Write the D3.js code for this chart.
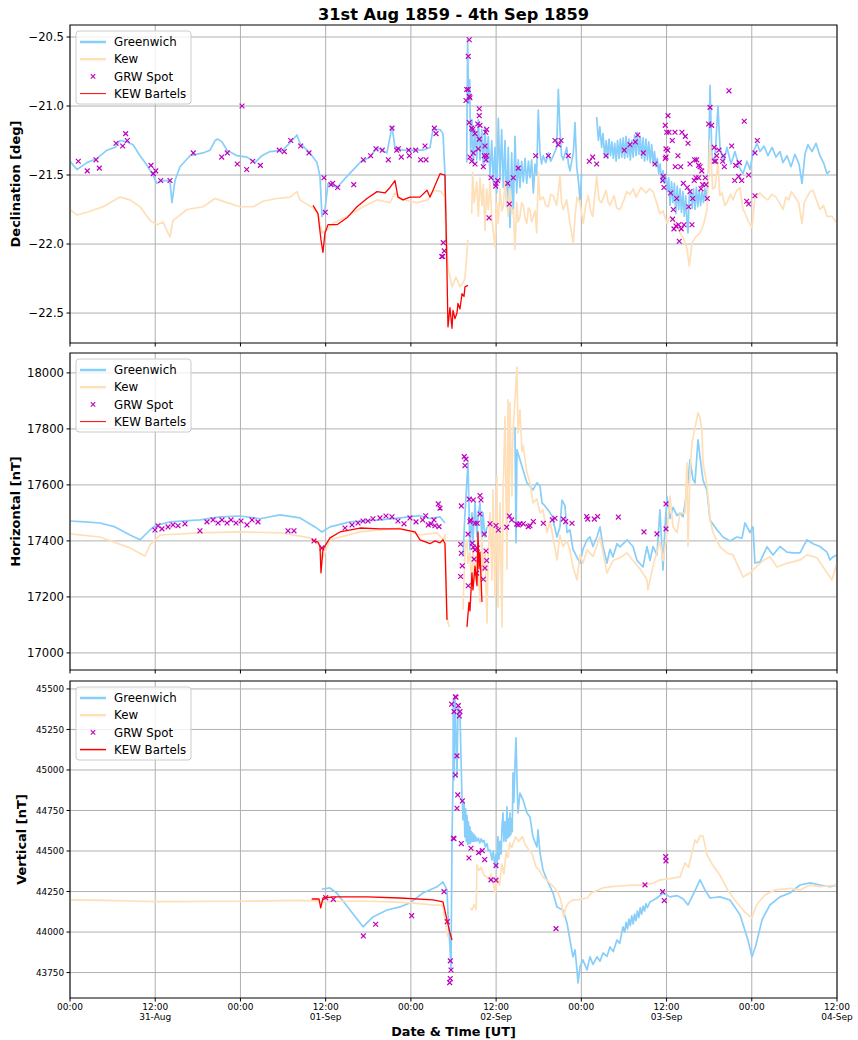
<!DOCTYPE html>
<html><head><meta charset="utf-8">
<script src="https://cdn.jsdelivr.net/npm/d3@7"></script>
<style>body{margin:0;background:#fff} text{font-family:"DejaVu Sans",sans-serif}</style>
</head><body><svg id="c" width="858" height="1040"></svg>
<script>
// time in hours from 31 Aug 1859 00:00 UT
const xTickHours = [0,12,24,36,48,60,72,84,96,108];
const xTickTimes = ["00:00","12:00","00:00","12:00","00:00","12:00","00:00","12:00","00:00","12:00"];
const xTickDates = ["","31-Aug","","01-Sep","","02-Sep","","03-Sep","","04-Sep"];
const decTicks = [-20.5,-21.0,-21.5,-22.0,-22.5];
const horTicks = [17000,17200,17400,17600,17800,18000];
const verTicks = [43750,44000,44250,44500,44750,45000,45250,45500];

const decGreenwich = [[0,-21.40],[0.99,-21.46],[2.39,-21.41],[3.8,-21.38],[5.21,-21.32],[6.34,-21.30],[7.04,-21.25],[8.03,-21.26],[8.87,-21.28],[9.86,-21.36],[10.84,-21.43],[11.69,-21.50],[12.25,-21.56],[12.95,-21.54],[13.8,-21.54],[14.08,-21.55],[14.36,-21.70],[14.78,-21.54],[15.49,-21.44],[16.9,-21.36],[18.73,-21.34],[19.71,-21.32],[20.42,-21.25],[20.84,-21.24],[21.4,-21.26],[22.11,-21.32],[23.51,-21.36],[24.92,-21.37],[26.05,-21.41],[27.03,-21.36],[28.16,-21.33],[29.99,-21.32],[31.26,-21.25],[31.96,-21.21],[32.39,-21.27],[33.79,-21.34],[34.78,-21.41],[35.2,-21.51],[35.48,-21.80],[35.9,-21.75],[36.33,-21.56],[37.6,-21.59],[39.0,-21.51],[40.83,-21.41],[42.24,-21.37],[43.23,-21.30],[44.63,-21.34],[45.34,-21.15],[45.76,-21.30],[46.89,-21.32],[48.3,-21.32],[49.7,-21.32],[50.69,-21.30],[51.11,-21.17],[52.1,-21.17],[52.52,-21.20],[52.8,-21.49],[52.94,-21.97],[53.08,-22.05],[53.2,null],
[55.86,-21.41],[55.99,-20.52],[56.13,-20.98],[56.28,-20.81],[56.42,-21.34],[56.6,-21.10],[56.79,-21.41],[57.03,-21.17],[57.27,-21.39],[57.5,-21.10],[57.73,-21.39],[57.97,-21.17],[58.2,-21.44],[58.43,-21.15],[58.67,-21.41],[58.9,-21.22],[59.14,-21.51],[59.38,-21.25],[59.62,-21.56],[59.84,-21.30],[60.08,-21.63],[60.31,-21.09],[60.55,-21.54],[60.78,-21.17],[61.01,-21.59],[61.25,-21.25],[61.49,-21.73],[61.71,-21.30],[61.95,-21.88],[62.19,-21.34],[62.42,-21.78],[62.66,-21.22],[62.9,-21.63],[63.12,-21.39],[63.36,-21.59],[63.6,-21.40],[63.83,-21.55],[64.07,-21.38],[64.31,-21.56],[64.55,-21.40],[64.77,-21.52],[65.0,-21.39],[65.24,-21.63],[65.48,-21.42],[65.71,-21.50],[65.94,-21.03],[66.18,-21.34],[66.4,-21.42],[66.64,-21.36],[67.0,-21.41],[67.35,-21.34],[67.7,-21.40],[68.05,-21.36],[68.53,-21.30],[68.76,-20.88],[68.99,-21.17],[69.22,-21.36],[69.46,-21.39],[69.94,-21.30],[70.18,-21.42],[70.4,-21.47],[70.87,-21.34],[71.11,-21.12],[71.35,-21.44],[71.6,-21.55],[71.81,-21.68],[72.05,-21.49],[72.2,null],
[74.16,-21.08],[74.4,-21.25],[74.6,-21.15],[74.86,-21.30],[75.05,-21.20],[75.3,-21.37],[75.5,-21.25],[75.7,-21.38],[75.9,-21.24],[76.1,-21.36],[76.3,-21.26],[76.5,-21.38],[76.7,-21.27],[76.9,-21.40],[77.1,-21.25],[77.3,-21.38],[77.5,-21.24],[77.7,-21.37],[77.9,-21.23],[78.1,-21.38],[78.3,-21.22],[78.5,-21.37],[78.7,-21.24],[78.9,-21.39],[79.1,-21.25],[79.3,-21.37],[79.5,-21.21],[79.7,-21.36],[79.9,-21.19],[80.1,-21.35],[80.3,-21.22],[80.5,-21.38],[80.7,-21.23],[80.9,-21.40],[81.1,-21.24],[81.3,-21.39],[81.5,-21.26],[81.7,-21.41],[81.9,-21.28],[82.1,-21.42],[82.3,-21.33],[82.5,-21.44],[82.7,-21.38],[82.9,-21.49],[83.1,-21.42],[83.3,-21.55],[83.5,-21.47],[83.7,-21.56],[83.9,-21.50],[84.1,-21.62],[84.3,-21.52],[84.5,-21.72],[84.7,-21.55],[84.9,-21.70],[85.1,-21.56],[85.3,-21.78],[85.5,-21.58],[85.7,-21.75],[85.9,-21.60],[86.1,-21.77],[86.3,-21.62],[86.5,-21.80],[86.7,-21.65],[86.9,-21.85],[87.02,-21.92],[87.2,-21.65],[87.4,-21.62],[87.6,-21.74],[87.8,-21.60],[88.0,-21.75],[88.2,-21.59],[88.4,-21.73],[88.6,-21.61],[88.8,-21.72],[89.0,-21.62],[89.2,-21.70],[89.4,-21.60],[89.6,-21.68],[89.9,-21.50],[90.12,-20.85],[90.4,-21.39],[90.82,-21.37],[91.24,-21.00],[91.52,-21.30],[92.08,-21.40],[92.51,-21.30],[93.07,-21.42],[93.63,-21.33],[94.2,-21.44],[94.76,-21.49],[95.32,-21.40],[95.75,-21.46],[96.17,-21.34],[96.73,-21.27],[97.16,-21.33],[97.72,-21.29],[98.28,-21.36],[98.85,-21.30],[99.41,-21.37],[99.97,-21.33],[100.39,-21.41],[100.96,-21.36],[101.52,-21.44],[102.08,-21.35],[102.65,-21.42],[103.07,-21.56],[103.49,-21.35],[103.91,-21.28],[104.48,-21.33],[105.04,-21.27],[105.6,-21.36],[106.17,-21.42],[106.59,-21.49],[107.01,-21.47]];

const decKew = [[0,-21.75],[0.99,-21.79],[2.39,-21.77],[4.65,-21.73],[7.04,-21.66],[8.45,-21.68],[9.86,-21.73],[11.27,-21.83],[12.25,-21.86],[13.1,-21.84],[14.08,-21.95],[14.5,-21.83],[16.48,-21.75],[18.73,-21.73],[20.42,-21.67],[22.11,-21.70],[23.94,-21.73],[25.77,-21.73],[27.17,-21.69],[29.15,-21.67],[31.0,-21.66],[31.96,-21.62],[32.39,-21.68],[34.22,-21.74],[34.92,-21.78],[35.48,-21.92],[36.19,-21.90],[37.03,-21.85],[39.0,-21.80],[41.26,-21.73],[43.23,-21.68],[45.06,-21.70],[45.76,-21.63],[46.89,-21.68],[48.86,-21.70],[50.41,-21.68],[51.26,-21.61],[52.24,-21.62],[52.8,-21.66],[53.08,-22.04],[53.22,-22.17],[53.8,-22.31],[54.35,-22.24],[54.92,-22.31],[55.48,-22.27],[55.62,-22.24],[56.04,-21.97],[56.3,null],
[56.56,-21.78],[56.7,-21.48],[56.9,-21.70],[57.27,-21.55],[57.5,-21.80],[57.73,-21.52],[58.0,-21.72],[58.2,-21.57],[58.43,-21.90],[58.67,-21.60],[58.9,-21.75],[59.14,-21.55],[59.4,-21.82],[59.84,-22.02],[60.08,-21.70],[60.3,-21.85],[60.55,-21.60],[60.8,-21.76],[61.01,-21.73],[61.25,-21.54],[61.49,-21.68],[61.7,-21.80],[61.95,-21.60],[62.2,-21.78],[62.42,-21.75],[62.66,-22.04],[62.9,-21.70],[63.1,-21.84],[63.36,-21.80],[63.6,-21.70],[63.83,-21.72],[64.1,-21.82],[64.31,-21.85],[64.55,-21.74],[64.77,-21.75],[65.0,-21.84],[65.24,-21.80],[65.5,-21.76],[65.71,-21.92],[65.94,-21.48],[66.18,-21.68],[66.64,-21.66],[67.0,-21.72],[67.35,-21.73],[67.7,-21.64],[68.05,-21.65],[68.53,-21.72],[68.99,-21.51],[69.22,-21.70],[69.46,-21.75],[69.94,-21.68],[70.2,-21.78],[70.4,-21.85],[70.87,-21.99],[71.11,-21.80],[71.4,-21.66],[71.81,-21.70],[72.28,-21.85],[72.6,-21.72],[72.99,-21.65],[73.3,-21.76],[73.6,-21.80],[74.16,-21.51],[74.5,-21.68],[74.86,-21.70],[75.47,-21.61],[75.8,-21.70],[76.03,-21.72],[76.6,-21.65],[77.0,-21.74],[77.44,-21.75],[78.0,-21.68],[78.4,-21.62],[78.85,-21.64],[79.3,-21.60],[79.7,-21.66],[80.4,-21.59],[81.1,-21.63],[81.6,-21.60],[82.1,-21.62],[82.6,-21.70],[83.07,-21.78],[83.5,-21.76],[84.06,-21.85],[84.5,-21.80],[84.9,-21.82],[85.4,-21.86],[85.9,-21.92],[86.4,-21.96],[86.9,-22.04],[87.2,-22.16],[87.6,-21.99],[88.1,-21.95],[88.7,-21.92],[89.2,-21.86],[89.7,-21.75],[90.12,-21.25],[90.5,-21.60],[90.82,-21.59],[91.24,-21.41],[91.5,-21.65],[91.8,-21.63],[92.2,-21.72],[92.5,-21.70],[93.0,-21.64],[93.35,-21.68],[93.8,-21.62],[94.34,-21.59],[94.76,-21.75],[95.1,-21.78],[95.46,-21.83],[96.03,-21.88],[96.45,-21.66],[97.16,-21.63],[97.7,-21.66],[98.28,-21.68],[98.8,-21.64],[99.41,-21.66],[99.9,-21.70],[100.4,-21.75],[100.8,-21.66],[101.2,-21.68],[101.6,-21.62],[102.1,-21.66],[102.6,-21.70],[103.07,-21.85],[103.4,-21.70],[103.77,-21.66],[104.2,-21.62],[104.62,-21.61],[105.1,-21.68],[105.6,-21.75],[106.1,-21.72],[106.6,-21.80],[107.3,-21.80],[108,-21.85]];

const decBartels = [[34.22,-21.72],[34.92,-21.78],[35.34,-21.97],[35.62,-22.06],[35.9,-21.92],[36.33,-21.86],[37.6,-21.86],[39.0,-21.81],[40.41,-21.73],[41.82,-21.67],[43.23,-21.62],[44.35,-21.63],[45.06,-21.59],[45.76,-21.54],[46.18,-21.66],[46.89,-21.68],[47.87,-21.66],[49.28,-21.66],[50.27,-21.61],[50.69,-21.66],[51.11,-21.61],[52.1,-21.49],[52.8,-21.50],[52.94,-21.83],[53.08,-22.19],[53.22,-22.60],[53.5,-22.46],[53.79,-22.61],[53.93,-22.48],[54.21,-22.54],[54.49,-22.50],[54.63,-22.43],[54.91,-22.47],[55.2,-22.36],[55.48,-22.38],[55.62,-22.31],[56.04,-22.30]];

const decSpots = [[1.17,-21.40],[2.43,-21.47],[3.66,-21.39],[4.13,-21.45],[6.48,-21.27],[7.42,-21.29],[7.84,-21.20],[8.07,-21.25],[11.4,-21.43],[12.07,-21.47],[11.73,-21.49],[12.77,-21.54],[14.08,-21.54],[17.36,-21.34],[21.36,-21.37],[22.15,-21.34],[23.56,-21.42],[24.22,-21.00],[24.88,-21.46],[25.73,-21.40],[26.8,-21.43],[29.47,-21.32],[30.17,-21.33],[31.08,-21.25],[32.48,-21.29],[33.65,-21.34],[35.76,-21.52],[36.75,-21.57],[36.99,-21.56],[37.69,-21.59],[35.95,-21.77],[39.95,-21.57],[41.3,-21.39],[42.34,-21.36],[43.09,-21.31],[43.97,-21.32],[44.82,-21.39],[45.34,-21.16],[46.0,-21.32],[46.23,-21.31],[46.65,-21.37],[47.69,-21.32],[47.78,-21.36],[48.68,-21.32],[49.38,-21.39],[50.13,-21.39],[51.3,-21.16],[51.54,-21.20],[49.99,-21.29],[52.56,-21.99],[52.7,-22.05],[52.34,-22.09],[52.48,-22.09],[56.22,-20.52],[56.08,-20.64],[55.86,-20.88],[56.08,-20.88],[55.76,-20.96],[56.22,-20.93],[56.32,-20.94],[57.63,-21.02],[57.63,-21.07],[56.22,-21.12],[56.56,-21.16],[56.7,-21.17],[57.03,-21.20],[57.41,-21.13],[57.73,-21.14],[58.67,-21.17],[58.53,-21.19],[57.63,-21.24],[57.49,-21.31],[58.43,-21.29],[56.79,-21.34],[56.32,-21.37],[56.56,-21.40],[58.34,-21.36],[58.67,-21.36],[58.58,-21.39],[57.03,-21.42],[58.2,-21.44],[59.28,-21.52],[59.0,-21.81],[59.98,-21.56],[60.22,-21.54],[59.94,-21.58],[61.63,-21.56],[61.86,-21.71],[62.42,-21.52],[63.12,-21.45],[65.57,-21.36],[67.35,-21.36],[68.29,-21.25],[68.76,-21.28],[69.14,-21.25],[70.16,-21.36],[73.12,-21.40],[73.6,-21.37],[74.16,-21.42],[75.47,-21.36],[78.05,-21.32],[78.85,-21.28],[79.6,-21.26],[79.94,-21.21],[80.72,-21.34],[82.37,-21.42],[84.2,-21.07],[83.82,-21.14],[84.02,-21.19],[84.34,-21.19],[85.19,-21.19],[84.81,-21.25],[86.17,-21.19],[86.64,-21.22],[87.02,-21.27],[83.92,-21.31],[84.16,-21.32],[83.92,-21.37],[83.82,-21.38],[85.6,-21.36],[85.23,-21.44],[85.99,-21.44],[87.3,-21.42],[87.96,-21.39],[88.24,-21.39],[88.52,-21.43],[88.71,-21.44],[88.95,-21.47],[83.54,-21.51],[83.45,-21.54],[83.64,-21.59],[84.58,-21.63],[86.36,-21.56],[86.92,-21.59],[87.3,-21.62],[88.14,-21.52],[88.52,-21.52],[87.9,-21.54],[89.09,-21.57],[89.45,-21.52],[89.55,-21.57],[88.85,-21.60],[89.74,-21.67],[85.42,-21.67],[87.68,-21.67],[87.12,-21.73],[84.95,-21.75],[84.86,-21.82],[85.04,-21.89],[85.33,-21.87],[85.7,-21.86],[86.07,-21.89],[86.45,-21.86],[87.58,-21.86],[85.79,-21.98],[90.12,-21.01],[89.93,-21.13],[90.35,-21.14],[90.72,-21.30],[91.38,-21.32],[91.06,-21.36],[90.72,-21.40],[90.92,-21.40],[91.99,-21.36],[91.9,-21.40],[92.13,-21.44],[93.17,-21.29],[93.73,-21.43],[94.24,-21.41],[94.16,-21.51],[93.59,-21.54],[94.58,-21.54],[95.56,-21.50],[92.79,-20.89],[94.94,-21.11],[96.78,-21.25],[96.45,-21.34],[95.28,-21.69],[95.56,-21.71],[96.45,-21.65]];

const horGreenwich = [[0,17471],[2.11,17468],[4.22,17464],[6.34,17450],[8.45,17421],[9.86,17404],[11.26,17439],[11.97,17454],[14.08,17468],[18.3,17475],[21.12,17486],[23.94,17489],[26.75,17479],[29.57,17493],[32.39,17482],[34.5,17450],[35.48,17432],[36.61,17450],[39.43,17468],[43.65,17475],[46.47,17482],[49.28,17490],[50.69,17480],[52.1,17486],[52.8,17464],[52.95,null],
[55.34,17343],[55.62,17500],[56.04,17679],[56.32,17368],[56.6,17500],[56.74,17400],[57.03,17536],[57.31,17414],[57.45,17486],[57.73,17536],[58.01,17400],[58.15,17500],[58.43,17414],[58.72,17450],[58.9,null],
[62.66,17807],[62.8,17393],[62.94,17725],[63.36,17690],[63.79,17654],[64.35,17607],[64.77,17596],[65.19,17582],[65.75,17607],[66.18,17596],[66.46,17536],[66.88,17525],[67.3,17511],[67.87,17490],[68.57,17414],[68.99,17450],[69.28,17546],[69.7,17525],[69.98,17430],[70.4,17439],[70.82,17370],[71.81,17321],[72.23,17370],[72.8,17404],[73.22,17414],[73.64,17380],[74.2,17414],[74.63,17450],[75.05,17380],[75.61,17321],[76.03,17370],[76.46,17343],[77.02,17390],[77.44,17379],[78.43,17404],[79.27,17380],[79.84,17330],[80.68,17307],[81.24,17380],[81.67,17330],[82.09,17380],[82.65,17350],[83.07,17511],[83.5,17296],[83.78,17450],[84.06,17557],[84.48,17480],[84.91,17520],[85.47,17490],[85.9,17500],[86.31,17486],[86.88,17580],[87.3,17689],[87.72,17620],[88.0,17607],[88.43,17761],[88.71,17700],[89.13,17618],[89.69,17580],[90.12,17475],[91.1,17440],[91.94,17414],[92.93,17400],[93.92,17414],[94.62,17410],[95.04,17464],[95.75,17430],[96.17,17450],[96.45,17321],[97.16,17325],[98.14,17379],[98.99,17350],[99.97,17380],[100.96,17360],[101.8,17357],[102.79,17357],[103.77,17404],[104.62,17390],[105.6,17380],[106.59,17360],[107.01,17332],[107.43,17343],[108,17350]];

const horKew = [[0,17425],[4.22,17414],[8.45,17375],[10.56,17346],[11.26,17386],[12.67,17421],[18.3,17429],[23.94,17432],[29.57,17429],[33.79,17411],[35.2,17386],[35.48,17332],[36.61,17404],[40.83,17432],[46.47,17446],[49.28,17421],[51.68,17429],[52.52,17404],[52.8,17421],[53.08,17129],[53.37,17093],[53.5,null],
[55.34,17154],[55.62,17370],[55.9,17404],[56.04,17320],[56.32,17360],[56.6,17225],[56.74,17380],[57.03,17260],[57.31,17350],[57.73,17179],[58.01,17418],[58.15,17290],[58.43,17370],[58.72,17107],[58.86,17330],[59.14,17500],[59.42,17260],[59.56,17582],[59.84,17200],[60.12,17629],[60.26,17164],[60.55,17536],[60.83,17093],[60.97,17550],[61.25,17843],[61.53,17300],[61.67,17904],[61.81,17500],[61.95,17893],[62.23,17560],[62.38,17786],[62.66,17904],[62.94,18021],[63.08,17786],[63.36,17868],[63.64,17720],[63.79,17740],[64.35,17643],[64.77,17607],[65.19,17536],[65.75,17550],[66.18,17500],[66.6,17511],[67.16,17430],[67.59,17470],[68.01,17414],[68.57,17332],[68.99,17420],[69.42,17380],[69.98,17400],[70.4,17368],[70.82,17307],[71.39,17261],[71.81,17350],[72.23,17320],[72.8,17368],[73.64,17345],[74.63,17414],[75.61,17286],[76.46,17330],[77.44,17340],[78.43,17357],[79.27,17330],[80.26,17300],[81.24,17261],[81.38,17225],[82.09,17310],[83.07,17400],[83.5,17330],[84.06,17429],[84.48,17560],[84.91,17450],[85.47,17430],[85.9,17500],[86.6,17500],[86.88,17679],[87.02,17380],[87.3,17640],[87.58,17750],[88.43,17857],[88.71,17840],[88.99,17790],[89.13,17679],[89.69,17600],[90.12,17475],[90.54,17430],[91.52,17379],[92.51,17357],[93.35,17350],[94.34,17296],[94.76,17271],[95.75,17286],[96.73,17310],[97.58,17330],[98.56,17343],[99.55,17307],[100.96,17320],[102.79,17332],[103.77,17350],[105.18,17340],[106.59,17286],[107.29,17261],[108,17320]];

const horBartels = [[34.07,17404],[34.92,17396],[35.2,17380],[35.34,17286],[35.62,17370],[36.61,17411],[38.02,17432],[40.83,17446],[43.65,17443],[46.47,17443],[48.58,17432],[49.28,17404],[50.69,17390],[51.39,17400],[52.1,17393],[52.52,17404],[52.8,17390],[53.08,17118],[53.2,null],[55.9,17093],[56.18,17180],[56.32,17150],[56.6,17286],[56.74,17225],[57.03,17310],[57.31,17240],[57.45,17432],[57.59,17300],[57.73,17360],[58.01,17182]];

const horSpots = [[11.97,17439],[12.39,17454],[12.95,17443],[13.8,17450],[14.5,17457],[15.21,17454],[16.19,17461],[18.3,17436],[19.29,17468],[20.14,17475],[20.84,17464],[21.4,17475],[22.11,17464],[22.67,17475],[23.37,17464],[24.08,17471],[24.92,17457],[25.63,17475],[26.47,17468],[30.7,17436],[31.54,17436],[34.36,17400],[35.48,17375],[38.72,17446],[39.71,17457],[40.55,17464],[41.26,17471],[41.96,17471],[42.66,17479],[43.65,17482],[44.49,17489],[45.34,17486],[46.18,17471],[47.03,17461],[47.87,17482],[48.72,17468],[49.66,17475],[50.08,17490],[50.45,17457],[50.83,17461],[51.25,17475],[51.39,17454],[51.86,17532],[52.1,17517],[51.96,17451],[55.52,17701],[55.76,17692],[55.62,17669],[55.1,17525],[56.22,17549],[56.79,17546],[57.73,17562],[57.87,17546],[57.73,17496],[56.42,17475],[56.32,17469],[57.03,17463],[57.35,17463],[56.04,17424],[58.34,17424],[55.0,17388],[55.1,17356],[56.65,17392],[56.79,17378],[57.03,17368],[57.35,17374],[58.58,17364],[58.67,17330],[55.24,17311],[55.0,17273],[56.89,17335],[57.27,17285],[58.43,17303],[58.2,17263],[56.08,17240],[59.14,17461],[59.98,17455],[60.31,17439],[61.49,17449],[61.86,17489],[62.19,17475],[62.9,17460],[63.12,17457],[63.36,17461],[63.83,17461],[64.53,17451],[64.77,17454],[65.24,17469],[66.64,17463],[67.91,17475],[68.29,17481],[69.46,17478],[69.8,17469],[70.68,17463],[72.75,17487],[72.9,17478],[73.83,17478],[74.3,17487],[77.21,17485],[80.82,17432],[82.65,17425],[83.92,17532],[83.92,17443]];

const verGreenwich = [[35.44,44264],[36.6,44272],[37.55,44241],[39.43,44136],[41.26,44032],[42.66,44093],[44.64,44136],[46.47,44155],[47.87,44180],[49.7,44241],[51.68,44279],[52.52,44309],[53.08,44260],[53.22,44118],[53.5,43908],[53.65,43766],[53.79,44568],[53.93,44939],[53.97,45432],[54.07,44939],[54.21,45451],[54.49,44957],[54.63,45389],[54.91,45352],[55.2,44815],[55.27,44780],[55.34,44692],[55.5,44800],[55.6,44587],[55.7,44760],[55.8,44560],[55.9,44720],[56.0,44540],[56.1,44680],[56.2,44545],[56.3,44650],[56.4,44550],[56.5,44620],[56.6,44560],[56.7,44610],[56.8,44560],[56.9,44600],[57.0,44560],[57.1,44590],[57.3,44560],[57.5,44580],[57.7,44550],[57.9,44575],[58.1,44555],[58.3,44565],[58.5,44525],[58.72,44545],[58.9,44500],[59.14,44507],[59.42,44445],[59.6,44500],[59.84,44402],[59.98,44480],[60.12,44400],[60.26,44587],[60.4,44450],[60.55,44560],[60.7,44480],[60.83,44649],[60.97,44735],[61.1,44560],[61.25,44680],[61.4,44560],[61.53,44772],[61.64,44580],[61.74,44700],[61.85,44590],[61.95,44735],[62.06,44600],[62.16,44700],[62.27,44620],[62.38,44982],[62.5,44800],[62.66,45043],[62.8,45198],[62.94,44939],[63.08,44735],[63.36,44858],[63.79,44815],[64.35,44735],[64.77,44710],[65.19,44587],[65.75,44525],[65.9,44630],[66.18,44488],[66.6,44383],[67.16,44322],[68.01,44241],[68.57,44155],[69.42,44136],[69.98,44056],[70.4,43951],[70.82,43847],[71.11,43890],[71.39,43766],[71.53,43686],[71.81,43785],[72.23,43828],[72.8,43766],[73.22,43847],[73.64,43800],[74.2,43847],[74.63,43820],[75.05,43871],[75.61,43850],[76.03,43908],[76.5,43880],[77.02,43951],[77.4,43930],[77.86,44032],[78.1,44000],[78.3,44060],[78.5,44020],[78.7,44080],[78.9,44040],[79.1,44100],[79.3,44050],[79.5,44110],[79.7,44070],[79.9,44130],[80.1,44090],[80.3,44150],[80.5,44110],[80.7,44160],[80.9,44130],[81.1,44175],[81.3,44150],[81.67,44186],[82.65,44210],[83.5,44241],[84.48,44217],[85.47,44225],[86.31,44205],[87.02,44167],[87.86,44241],[88.71,44322],[89.41,44260],[90.12,44210],[91.52,44217],[92.93,44198],[94.34,44106],[95.46,43951],[96.03,43847],[96.59,43920],[97.44,44075],[98.56,44167],[99.97,44217],[101.38,44241],[102.79,44290],[104.2,44303],[105.6,44290],[107.0,44280],[108,44290]];

const verKew = [[0,44198],[5,44195],[10,44190],[12,44188],[16,44188],[20,44190],[24,44190],[28,44192],[32,44195],[35,44192],[35.5,44180],[36,44188],[38,44190],[42,44190],[46,44185],[48,44180],[51,44168],[52.5,44165],[53.1,43994],[53.2,43970],[53.3,null],
[56.32,44150],[56.6,44136],[56.9,44170],[57.2,44140],[57.3,44414],[57.6,44380],[57.9,44400],[58.3,44350],[58.7,44340],[59.0,44322],[59.3,44360],[59.6,44300],[59.9,44241],[60.2,44330],[60.5,44290],[60.8,44420],[61.1,44360],[61.4,44488],[61.7,44460],[61.9,44550],[62.2,44520],[62.7,44587],[63.2,44560],[63.7,44590],[64.1,44540],[64.6,44507],[65.1,44480],[65.6,44402],[66.1,44380],[66.6,44340],[67.1,44322],[67.6,44300],[68.1,44279],[68.6,44250],[69.1,44200],[69.3,44150],[69.5,44093],[69.8,44150],[70.2,44180],[70.8,44198],[71.6,44200],[72.8,44210],[73.4,44241],[74.4,44260],[75.0,44272],[76.2,44280],[77.3,44284],[78.7,44288],[80.1,44290],[81.0,44292],[82.0,44300],[83.1,44322],[84.5,44330],[85.9,44340],[86.6,44426],[87.1,44400],[88.0,44568],[88.3,44550],[88.71,44593],[89.13,44593],[89.7,44476],[90.4,44420],[91.5,44352],[92.6,44260],[93.6,44198],[95.0,44124],[96.0,44087],[96.7,44170],[97.9,44230],[99.3,44260],[101.4,44270],[102.8,44260],[104.2,44290],[105.6,44280],[108,44290]];

const verBartels = [[34.03,44204],[35.06,44204],[35.3,44149],[35.62,44210],[37.03,44217],[41.82,44217],[46.47,44210],[51.11,44198],[52.52,44186],[53.08,44075],[53.5,43995],[53.79,43951]];

const verSpots = [[36.0,44212],[37.08,44202],[41.3,43976],[43.04,44048],[48.11,44101],[52.66,44249],[53.13,44064],[53.55,43822],[53.65,43766],[53.55,43713],[53.46,43688],[53.97,44579],[54.07,44576],[54.26,45452],[54.35,45449],[53.74,45406],[54.07,45360],[54.67,45397],[54.91,45360],[54.82,45333],[54.49,45087],[54.26,44969],[54.6,44846],[54.49,44764],[55.24,44809],[55.1,44546],[56.46,44517],[56.18,44457],[57.54,44490],[58.05,44502],[58.39,44447],[59.28,44322],[59.98,44320],[59.98,44410],[68.43,44021],[80.96,44291],[83.45,44249],[83.68,44194],[83.88,44465],[83.92,44439]];

const C = {grw:"#87cefa", kew:"#ffdfb8", spot:"#bf00bf", bar:"#ff0000"};

const svg = d3.select("#c");
const L = 70, R = 837;
const x = d3.scaleLinear().domain([0,108]).range([L,R]);

const panels = [
  {top:25, bottom:343, dom:[-22.717,-20.413], ticks:decTicks, fmt:d=>d3.format(".1f")(d).replace("-","\u2212"), fs:11.6, label:"Declination [deg]", lx:20,
   grw:decGreenwich, kew:decKew, bar:decBartels, spots:decSpots, legBarW:1},
  {top:353, bottom:670, dom:[16939,18071], ticks:horTicks, fmt:d=>String(d), fs:11.6, label:"Horizontal [nT]", lx:20,
   grw:horGreenwich, kew:horKew, bar:horBartels, spots:horSpots, legBarW:1},
  {top:681, bottom:998, dom:[43593,45549], ticks:verTicks, fmt:d=>String(d), fs:8.8, label:"Vertical [nT]", lx:26,
   grw:verGreenwich, kew:verKew, bar:verBartels, spots:verSpots, legBarW:1.5}
];

panels.forEach((p,i)=>{
  const y = d3.scaleLinear().domain(p.dom).range([p.bottom,p.top]);
  const g = svg.append("g");
  const cid = "clip"+i;
  svg.append("clipPath").attr("id",cid).append("rect").attr("x",L).attr("y",p.top).attr("width",R-L).attr("height",p.bottom-p.top);
  g.selectAll(".gx").data(xTickHours).join("line").attr("x1",d=>x(d)).attr("x2",d=>x(d)).attr("y1",p.top).attr("y2",p.bottom).attr("stroke","#b0b0b0").attr("stroke-width",1);
  g.selectAll(".gy").data(p.ticks).join("line").attr("x1",L).attr("x2",R).attr("y1",d=>y(d)).attr("y2",d=>y(d)).attr("stroke","#b0b0b0").attr("stroke-width",1);
  const line = d3.line().defined(d=>d[1]!==null).x(d=>x(d[0])).y(d=>y(d[1]));
  const dg = g.append("g").attr("clip-path",`url(#${cid})`);
  dg.append("path").attr("d",line(p.grw)).attr("fill","none").attr("stroke",C.grw).attr("stroke-width",1.7).attr("stroke-linejoin","round");
  dg.append("path").attr("d",line(p.kew)).attr("fill","none").attr("stroke",C.kew).attr("stroke-width",1.7).attr("stroke-linejoin","round");
  dg.selectAll(".sp").data(p.spots).join("path")
    .attr("d",d=>{const cx=x(d[0]), cy=y(d[1]), s=2.4; return `M${cx-s},${cy-s}L${cx+s},${cy+s}M${cx-s},${cy+s}L${cx+s},${cy-s}`;})
    .attr("stroke",C.spot).attr("stroke-width",1.2).attr("fill","none");
  dg.append("path").attr("d",line(p.bar)).attr("fill","none").attr("stroke",C.bar).attr("stroke-width",1.3).attr("stroke-linejoin","round");
  g.append("rect").attr("x",L).attr("y",p.top).attr("width",R-L).attr("height",p.bottom-p.top).attr("fill","none").attr("stroke","#000").attr("stroke-width",1);
  g.selectAll(".ty").data(p.ticks).join("line").attr("x1",L-3.5).attr("x2",L).attr("y1",d=>y(d)).attr("y2",d=>y(d)).attr("stroke","#000");
  g.selectAll(".tl").data(p.ticks).join("text").attr("x",L-6).attr("y",d=>y(d)).attr("dy","0.35em").attr("text-anchor","end").attr("font-size",p.fs).text(p.fmt);
  g.selectAll(".tx").data(xTickHours).join("line").attr("x1",d=>x(d)).attr("x2",d=>x(d)).attr("y1",p.bottom).attr("y2",p.bottom+3.5).attr("stroke","#000");
  g.append("text").attr("transform",`translate(${p.lx},${(p.top+p.bottom)/2}) rotate(-90)`).attr("text-anchor","middle").attr("font-size",13).attr("font-weight","bold").text(p.label);
  const lg = g.append("g").attr("transform",`translate(76,${p.top+6})`);
  lg.append("rect").attr("width",115).attr("height",73).attr("rx",3).attr("fill","#fff").attr("fill-opacity",0.8).attr("stroke","#cccccc");
  const items = [["Greenwich","grw"],["Kew","kew"],["GRW Spot","spot"],["KEW Bartels","bar"]];
  items.forEach((it,j)=>{
    const yy = 11 + j*17.2;
    if(it[1]==="spot"){
      const cx=17, s=2.2;
      lg.append("path").attr("d",`M${cx-s},${yy-s}L${cx+s},${yy+s}M${cx-s},${yy+s}L${cx+s},${yy-s}`).attr("stroke",C.spot).attr("stroke-width",1.1);
    } else {
      lg.append("line").attr("x1",4).attr("x2",30).attr("y1",yy).attr("y2",yy).attr("stroke",C[it[1]]).attr("stroke-width",it[1]==="bar"?p.legBarW:2.5);
    }
    lg.append("text").attr("x",38).attr("y",yy).attr("dy","0.36em").attr("font-size",11.8).text(it[0]);
  });
  if(i===2){
    const tg = g.selectAll(".xl").data(xTickHours).join("text").attr("x",d=>x(d)).attr("y",p.bottom+12).attr("text-anchor","middle").attr("font-size",9);
    tg.append("tspan").attr("x",d=>x(d)).text((d,k)=>xTickTimes[k]);
    tg.append("tspan").attr("x",d=>x(d)).attr("dy","1.1em").text((d,k)=>xTickDates[k]);
  }
});

svg.append("text").attr("x",(L+R)/2).attr("y",1035.5).attr("text-anchor","middle").attr("font-size",12.8).attr("font-weight","bold").text("Date & Time [UT]");
svg.append("text").attr("x",(L+R)/2).attr("y",20).attr("text-anchor","middle").attr("font-size",16.2).attr("font-weight","bold").text("31st Aug 1859 - 4th Sep 1859");
</script></body></html>
